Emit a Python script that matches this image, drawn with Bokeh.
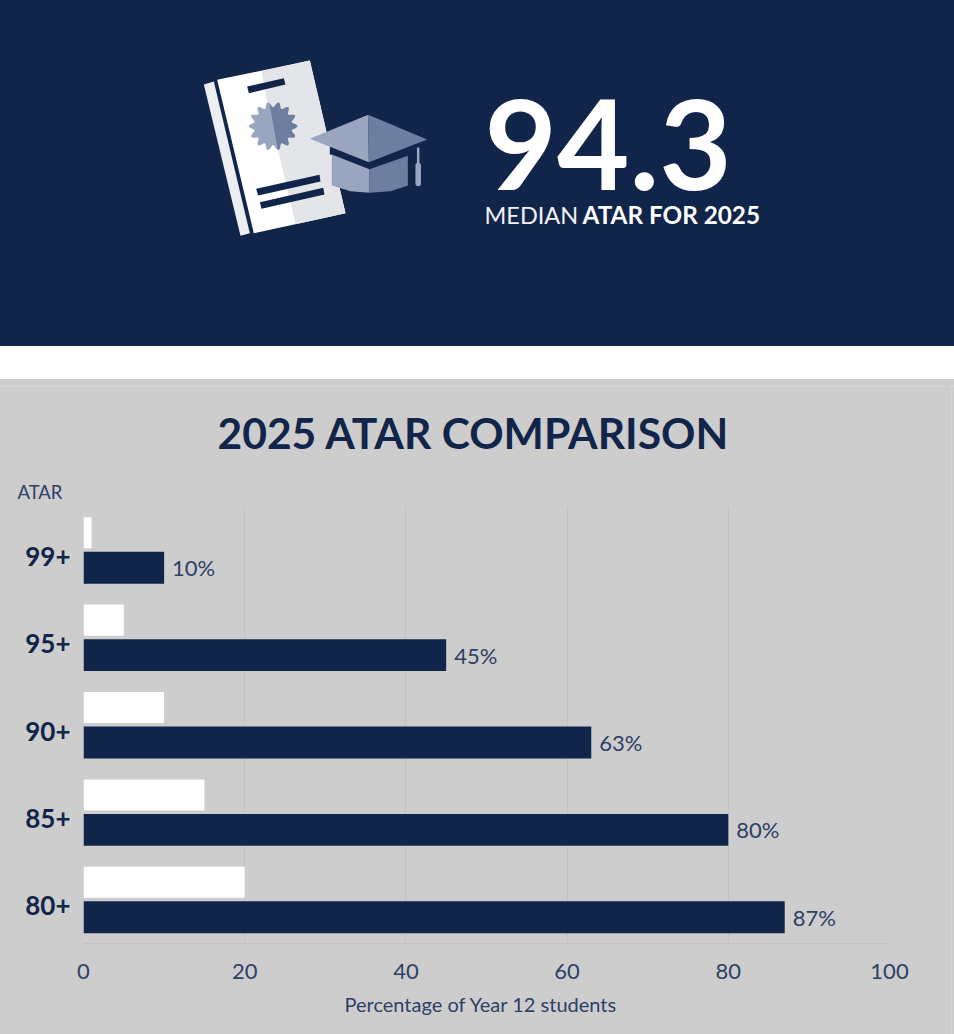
#2025 ATAR comparison: header banner with the icon, then the bar chart underneath
import numpy as np
from bokeh.core.properties import value
from bokeh.embed import file_html
from bokeh.layouts import column
from bokeh.models import ColumnDataSource, FixedTicker, LinearAxis, Range1d, Title
from bokeh.plotting import figure
from bokeh.resources import INLINE

#the chart data
atar_bands = ["99+", "95+", "90+", "85+", "80+"]
white_values = [1, 5, 10, 15, 20]
navy_values = [10, 45, 63, 80, 87]
value_labels = ["10%", "45%", "63%", "80%", "87%"]
x_ticks = [0, 20, 40, 60, 80, 100]

NAVY = "#11244a"
GREY = "#cdcdcd"
EDGE = "#d6d6d6"
TICK_TEXT = "#2d4166"
GRID = "#bdc2cb"
FONT = "Lato"

#header first, ranges are just page pixels so the icon is easy to place
#fills go on the element itself, filling the frame leaves a thin seam round it
head = figure(width=954, height=346, x_range=Range1d(0, 954), y_range=Range1d(346, 0),
              output_backend="svg", toolbar_location=None, min_border=0,
              background_fill_color=None, border_fill_color=None, outline_line_color=None,
              styles={"background-color": NAVY})
head.axis.visible = False
head.grid.visible = False
#otherwise the column lines this frame up with the chart frame below
head.frame_align = False


def icon(points, color):
    xs = [p[0] / 3 + 190 for p in points]
    ys = [p[1] / 3 + 60 for p in points]
    head.patch(xs, ys, color=color, line_width=0)


#spine of the book
icon([(40, 72), (70, 63), (178, 518), (150, 526)], "#eceef1")
#page, plus the shaded right part
icon([(80, 58), (358, 0), (465, 458), (190, 518)], "#ffffff")
icon([(213, 32), (358, 0), (465, 458), (315, 491), (275, 320), (225, 100)], "#e4e5e8")
#text stripes on the page
icon([(170, 78), (280, 53), (285, 72), (175, 98)], NAVY)
icon([(197, 385), (387, 343), (390, 363), (203, 405)], NAVY)
icon([(208, 425), (398, 382), (402, 402), (213, 445)], NAVY)

#the seal, two halves split along a slightly tilted line
tilt = np.radians(10)
for start, color in [(np.pi / 2 + tilt, "#9aa6c0"), (-np.pi / 2 + tilt, "#6d7ea0")]:
    angles = np.linspace(start, start + np.pi, 180)
    radius = 65 + 8 * np.cos(14 * angles)
    icon(list(zip(248 + radius * np.cos(angles), 197 - radius * np.sin(angles))), color)

#the cap, navy band goes over the book so it still shows up
icon([(418, 258), (535, 303), (657, 260), (657, 285), (537, 326), (418, 281)], NAVY)
icon([(424, 282), (537, 326), (537, 397), (480, 392), (424, 375)], "#9aa6c0")
icon([(537, 326), (652, 286), (652, 375), (600, 392), (537, 397)], "#6d7ea0")
icon([(358, 235), (533, 163), (535, 305)], "#9aa6c0")
icon([(533, 163), (710, 237), (535, 305)], "#6d7ea0")
#tassel
head.line([417.7, 417.7], [147, 163], color="#9aa6c0", line_width=2.5)
head.line([417.7, 417.7], [165, 183], color="#9aa6c0", line_width=5.5, line_cap="round")

#text_font needs value() on glyphs or it goes looking for a column
head.text([484], [144], text=["94.3"], text_color="#ffffff", text_font=value(FONT), text_font_style="bold",
          text_font_size="125px", text_align="left", text_baseline="alphabetic")
head.text([484], [214], text=["MEDIAN"], text_color="#f1f2f5", text_font=value(FONT),
          text_font_size="23.5px", text_align="left", text_baseline="alphabetic")
head.text([582], [214], text=["ATAR FOR 2025"], text_color="#ffffff", text_font=value(FONT),
          text_font_style="bold", text_font_size="24.3px", text_align="left", text_baseline="alphabetic")

#now the bars, one unit of y per band with 99+ on top
band_count = len(atar_bands)
band_pos = [band_count - 0.5 - i for i in range(band_count)]
source = ColumnDataSource(data=dict(white_y=[y + 0.2 for y in band_pos], navy_y=[y - 0.2 for y in band_pos],
                                    white=white_values, navy=navy_values, label=value_labels))

#the two faint lines in the grey panel are just css backgrounds, annotations get cut off outside the frame
panel_styles = {
    "background-color": GREY,
    "background-image": f"linear-gradient({EDGE},{EDGE}), linear-gradient({EDGE},{EDGE})",
    "background-size": "100% 1px, 1px 100%",
    "background-position": "0 7px, 951px 7px",
    "background-repeat": "no-repeat",
}

p = figure(width=954, height=655, x_range=Range1d(0, 100), y_range=Range1d(0, band_count),
           output_backend="svg", toolbar_location=None, min_border_left=83, min_border_right=65,
           min_border_top=127, min_border_bottom=91,
           background_fill_color=None, border_fill_color=None, outline_line_color=None,
           styles=panel_styles)
p.frame_align = False

#ATAR goes in as a second title since it has to sit out past the frame
p.add_layout(Title(text="ATAR", align="left", offset=-66, standoff=7, text_color=TICK_TEXT, text_font=FONT,
                   text_font_style="normal", text_font_size="18.5px"), "above")

p.title.text = "2025 ATAR COMPARISON"
p.title.align = "left"
p.title.offset = 134
p.title.standoff = 35
p.title.text_color = NAVY
p.title.text_font = FONT
p.title.text_font_style = "bold"
p.title.text_font_size = "42.6px"

p.hbar(y="white_y", left=0, right="white", height=0.355, color="#ffffff", line_color=None, source=source)
p.hbar(y="navy_y", left=0, right="navy", height=0.365, color=NAVY, line_color=None, source=source)

#percent labels sit just after the navy bars
p.text(x="navy", y="navy_y", text="label", x_offset=8, text_align="left",
       text_baseline="middle", text_color=TICK_TEXT, text_font=value(FONT), text_font_size="22px", source=source)

#band labels sit 6px under the middle of each band, a slightly shifted range does that
p.yaxis.visible = False
p.ygrid.visible = False
band_shift = 6 / 87.4
p.extra_y_ranges["labels"] = Range1d(band_shift, band_count + band_shift)
band_axis = LinearAxis(y_range_name="labels", ticker=FixedTicker(ticks=band_pos),
                       major_label_overrides=dict(zip(band_pos, atar_bands)))
band_axis.axis_line_color = None
band_axis.major_tick_line_color = None
band_axis.minor_tick_line_color = None
band_axis.major_tick_out = 0
band_axis.major_label_standoff = 13
band_axis.major_label_text_color = NAVY
band_axis.major_label_text_font = FONT
band_axis.major_label_text_font_style = "bold"
band_axis.major_label_text_font_size = "26px"
p.add_layout(band_axis, "left")

p.xgrid.ticker = x_ticks
p.xgrid.grid_line_color = GRID
p.xaxis.ticker = x_ticks
p.xaxis.axis_line_color = GRID
p.xaxis.major_tick_line_color = None
p.xaxis.minor_tick_line_color = None
p.xaxis.major_tick_out = 0
p.xaxis.major_label_standoff = 20
p.xaxis.major_label_text_color = TICK_TEXT
p.xaxis.major_label_text_font = FONT
p.xaxis.major_label_text_font_size = "22px"

#this label is off centre from the frame in the reference, an axis label can't do that but a title can
p.add_layout(Title(text="Percentage of Year 12 students", align="left", offset=261, standoff=17,
                   text_color=TICK_TEXT, text_font=FONT, text_font_style="normal",
                   text_font_size="20px"), "below")

page = column(head, p, spacing=33)
open("out.html", "w").write(file_html(page, INLINE))
